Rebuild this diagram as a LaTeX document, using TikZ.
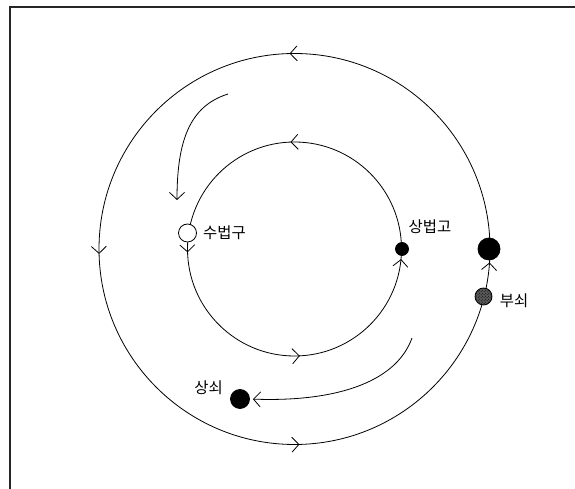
\documentclass[tikz,border=0pt]{standalone}
\usepackage{fontspec}
\newfontfamily\kor{Noto Sans CJK KR}
\usetikzlibrary{arrows.meta,decorations.markings,patterns}
\tikzset{
  barb/.tip={Straight Barb[length=7bp,width=15bp]},
  orbit/.style={line width=0.8bp,postaction={decorate}},
  dot/.style={circle,draw,fill=black,inner sep=0pt,line width=0.8bp},
  lbl/.style={font=\kor\fontsize{15.5}{18}\selectfont,inner sep=0pt},
}
\begin{document}
\begin{tikzpicture}[x=1bp,y=1bp]
  \useasboundingbox (0,0) rectangle (575,489);
  \draw[line width=1.3bp,black!85] (10,0) -- (10,482) -- (575,482);
  \coordinate (c) at (294.5,240);
  \draw[orbit,decoration={markings,
      mark=at position 0.254 with {\arrow{barb}},
      mark=at position 0.504 with {\arrow{barb}},
      mark=at position 0.754 with {\arrow{barb}},
      mark=at position 0.989 with {\arrow{barb}}}] (c) circle (195.5);
  \draw[orbit,decoration={markings,
      mark=at position 0.256 with {\arrow{barb}},
      mark=at position 0.505 with {\arrow{barb}},
      mark=at position 0.758 with {\arrow{barb}},
      mark=at position 0.985 with {\arrow{barb}}}] (c) circle (107);
  \node[dot,fill=white,minimum size=18bp] (subeopgu) at (187.5,256) {};
  \node[lbl,anchor=west] (subeopgu-l) at (203,256) {수법구};
  \node[dot,minimum size=13bp] (sangbeopgo) at (402,240) {};
  \node[lbl] (sangbeopgo-l) at (430,262) {상법고};
  \node[dot,minimum size=22bp] (jing) at (489,240) {};
  \node[dot,fill=none,preaction={fill=black!65},pattern=crosshatch dots,minimum size=17bp] (busoe) at (483.5,192.5) {};
  \node[lbl] (busoe-l) at (514,188) {부쇠};
  \node[dot,minimum size=19bp] (sangsoe) at (240,90) {};
  \node[lbl] (sangsoe-l) at (208.5,101.5) {상쇠};
  \coordinate (from1) at (228,395);
  \coordinate (to1) at (177,289);
  \coordinate (from2) at (412,151);
  \draw[-barb,line width=0.8bp] (from1) .. controls (190,383) and (177,349) .. (to1);
  \draw[-barb,line width=0.8bp,shorten >=3bp] (from2) .. controls (395,104) and (330,87) .. (sangsoe.east);
\end{tikzpicture}
\end{document}
